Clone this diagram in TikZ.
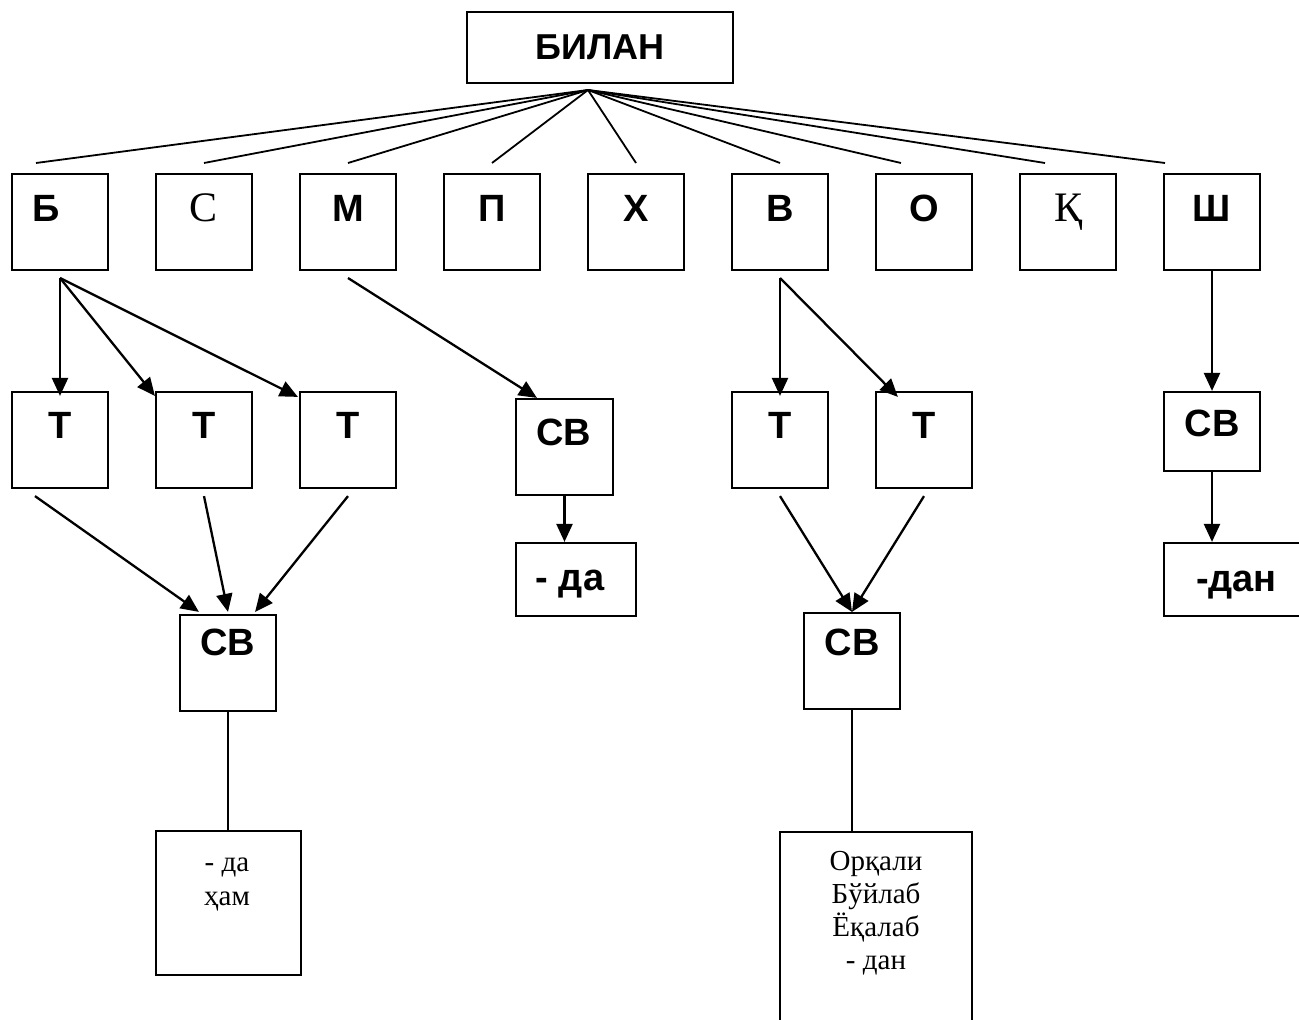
\documentclass[tikz,border=0pt]{standalone}
\usepackage{fontspec}
\setmainfont{Liberation Serif}
\newfontfamily\lsans{Liberation Sans}
\usetikzlibrary{arrows.meta,calc}

\begin{document}
\begin{tikzpicture}[x=1pt,y=-1pt,
  box/.style={draw, line width=2.2pt, inner sep=0pt, minimum width=96pt, minimum height=96pt},
  bold/.style={anchor=base, inner sep=0pt, font=\lsans\bfseries\fontsize{38}{40}\selectfont},
  serifbig/.style={anchor=base, inner sep=0pt, font=\fontsize{42}{44}\selectfont},
  serifsmall/.style={anchor=base, inner sep=0pt, font=\fontsize{29}{33}\selectfont},
  spoke/.style={line width=1.8pt},
  link/.style={line width=2.3pt, -{Triangle[length=18pt,width=16pt]}},
  plainline/.style={line width=2.2pt}]

\fill[white] (0,0) rectangle (1299,1020);
\useasboundingbox (0,0) rectangle (1299,1020);

% root
\node[box, minimum width=266pt, minimum height=71pt] (bilan) at (600,47.5) {};
\node[bold, font=\lsans\bfseries\fontsize{36}{40}\selectfont] (tbilan) at (600,59) {БИЛАН};
\coordinate (hub) at (588,90);

% first row of letters
\node[box] (B)  at (60,222)   {};  \node[bold] (tB)  at (46,221)   {Б};
\node[box] (S)  at (204,222)  {};  \node[serifbig] (tS) at (204,221) {С};
\node[box] (M)  at (348,222)  {};  \node[bold] (tM)  at (348,221)  {М};
\node[box] (P)  at (492,222)  {};  \node[bold] (tP)  at (492,221)  {П};
\node[box] (X)  at (636,222)  {};  \node[bold] (tX)  at (636,221)  {Х};
\node[box] (V)  at (780,222)  {};  \node[bold] (tV)  at (780,221)  {В};
\node[box] (O)  at (924,222)  {};  \node[bold] (tO)  at (924,221)  {О};
\node[box] (Q)  at (1068,222) {};  \node[serifbig] (tQ) at (1068,221) {Қ};
\node[box] (Sh) at (1212,222) {};  \node[bold] (tSh) at (1212,221) {Ш};

% spokes from the root
\coordinate (sB)  at (36,163);
\coordinate (sS)  at (204,163);
\coordinate (sM)  at (348,163);
\coordinate (sP)  at (492,163);
\coordinate (sX)  at (636,163);
\coordinate (sV)  at (780,163);
\coordinate (sO)  at (901,163);
\coordinate (sQ)  at (1045,163);
\coordinate (sSh) at (1165,163);
\foreach \e in {sB,sS,sM,sP,sX,sV,sO,sQ,sSh}
  \draw[spoke] (hub) -- (\e);

% Б branch
\coordinate (oB) at (60,278);
\node[box] (T1) at (60,440)  {};  \node[bold] (tT1) at (60,438)  {Т};
\node[box] (T2) at (204,440) {};  \node[bold] (tT2) at (204,438) {Т};
\node[box] (T3) at (348,440) {};  \node[bold] (tT3) at (348,438) {Т};
\draw[link] (oB) -- ($(T1.north)+(0,5)$);
\draw[link] (oB) -- ($(T2.north west)+(0,5)$);
\draw[link] (oB) -- ($(T3.north west)+(-1,6)$);

\node[box] (CBl) at (228,663) {};  \node[bold] (tCBl) at (228,655) {СВ};
\draw[link] ($(T1.south)+(-25,7)$) -- ($(CBl.north west)+(20,-2)$);
\draw[link] ($(T2.south)+(0,7)$)   -- ($(CBl.north)+(0,-2)$);
\draw[link] ($(T3.south)+(0,7)$)   -- ($(CBl.north east)+(-22,-2)$);

\node[box, minimum width=145pt, minimum height=144pt] (DH) at (228.5,903) {};
\node[serifsmall] (tDH1) at (227,871) {- да};
\node[serifsmall] (tDH2) at (227,905) {ҳам};
\draw[plainline] (CBl.south) -- (CBl.south |- DH.north);

% М branch
\coordinate (oM) at (348,278);
\node[box, minimum width=97pt] (CBm) at (564.5,447) {};  \node[bold] (tCBm) at (564,445) {СВ};
\draw[link] (oM) -- ($(CBm.north west)+(22,0)$);
\node[box, minimum width=120pt, minimum height=73pt] (DA) at (576,579.5) {};
\node[bold] (tDA) at (570,590) {- да};
\draw[link] (CBm.south) -- (CBm.south |- DA.north);

% В branch
\coordinate (oV) at (780,278);
\node[box] (T4) at (780,440) {};  \node[bold] (tT4) at (780,438) {Т};
\node[box] (T5) at (924,440) {};  \node[bold] (tT5) at (924,438) {Т};
\draw[link] (oV) -- ($(T4.north)+(0,5)$);
\draw[link] (oV) -- ($(T5.north west)+(23,6)$);

\node[box] (CBr) at (852,661) {};  \node[bold] (tCBr) at (852,655) {СВ};
\draw[link] ($(T4.south)+(0,7)$) -- (CBr.north);
\draw[link] ($(T5.south)+(0,7)$) -- (CBr.north);

\node[box, minimum width=192pt, minimum height=208pt] (ORQ) at (876,936) {};
\node[serifsmall] (tOR1) at (876,870) {Орқали};
\node[serifsmall] (tOR2) at (876,903) {Бўйлаб};
\node[serifsmall] (tOR3) at (876,936) {Ёқалаб};
\node[serifsmall] (tOR4) at (876,969) {- дан};
\draw[plainline] (CBr.south) -- (CBr.south |- ORQ.north);

% Ш branch
\node[box, minimum height=79pt] (CBs) at (1212,431.5) {};  \node[bold] (tCBs) at (1212,436) {СВ};
\draw[link] (Sh.south) -- (CBs.north);
\node[box, minimum width=145pt, minimum height=73pt] (DAN) at (1236.5,579.5) {};
\node[bold] (tDAN) at (1236.5,591) {-дан};
\draw[link] (CBs.south) -- (CBs.south |- DAN.north);

\end{tikzpicture}
\end{document}
